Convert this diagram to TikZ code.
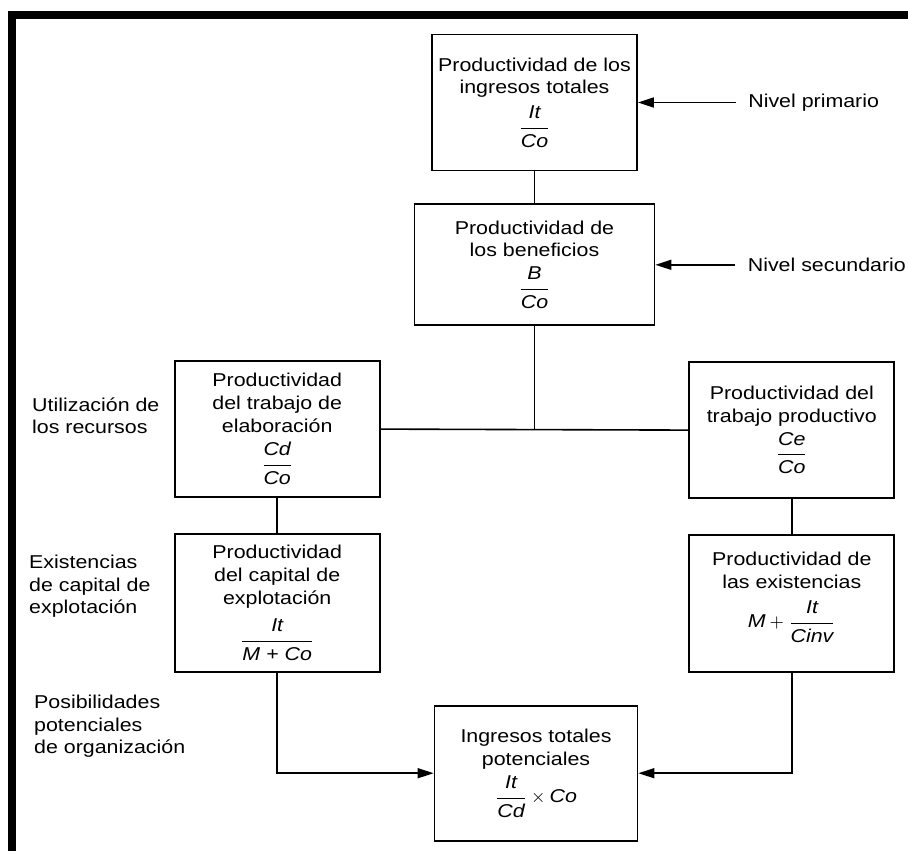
\documentclass[tikz,border=0pt]{standalone}
\usepackage{amsmath}
\usepackage{fontspec}
\setmainfont{Liberation Sans}[FakeStretch=1.15]
\usetikzlibrary{arrows.meta,positioning}
\newcommand{\pfrac}[2]{\dfrac{\textit{#1}\rule[-3.5pt]{0pt}{3.5pt}}{\rule{0pt}{8.2pt}\textit{#2}}}
\tikzset{
  pbox/.style={draw, line width=0.9pt, align=center, minimum width=102.5pt, minimum height=68pt, inner sep=2pt, font=\fontsize{9.3}{11.3}\selectfont},
  pboxwide/.style={pbox, minimum width=120pt, minimum height=60.5pt},
  plabel/.style={align=left, inner sep=0pt, font=\fontsize{9.3}{11.3}\selectfont},
  plevel/.style={inner xsep=6pt, inner ysep=2pt, font=\fontsize{9.3}{11.3}\selectfont},
  pline/.style={line width=0.8pt},
  parrow/.style={line width=0.8pt, -{Triangle[length=8pt, width=5pt]}},
  pframe/.style={fill=black}
}

\begin{document}
\begin{tikzpicture}
\useasboundingbox (0,0) rectangle (454pt,-425.5pt);
\fill[pframe] (4pt,-5.5pt) rectangle (454pt,-9.5pt);
\fill[pframe] (4pt,-5.5pt) rectangle (8pt,-425.5pt);

\node[pbox] (ingtot) at (267.25pt,-51.25pt) {Productividad de los\\ingresos totales\\[3pt]$\pfrac{It}{Co}$};
\node[pboxwide, below=16pt of ingtot] (benef) {Productividad de\\los beneficios\\[4pt]$\pfrac{B}{Co}$};
\node[pbox, below left=17pt and 16.5pt of benef] (elab) {Productividad\\del trabajo de\\elaboración\\[4pt]$\pfrac{Cd}{Co}$};
\node[pbox, below right=17.5pt and 16.5pt of benef] (prod) {Productividad del\\trabajo productivo\\[2pt]$\pfrac{Ce}{Co}$};
\node[pbox, below=17.5pt of elab, minimum height=69pt] (capexp) {Productividad\\del capital de\\explotación\\[4.3pt]$\pfrac{It}{M + \textit{Co}}$};
\node[pbox, below=17.5pt of prod, minimum height=68.5pt] (exist) {Productividad de\\las existencias\\[5pt]$\textit{M} + \pfrac{It}{Cinv}$\\[2pt]};
\node[pbox, below right=16pt and 26.5pt of capexp, minimum width=101.5pt, minimum height=67.5pt] (potenc) {Ingresos totales\\potenciales\\[2.3pt]$\pfrac{It}{Cd} \times \textit{Co}$};

\node[plevel, anchor=west, right=49pt of ingtot] (nivprim) {Nivel primario};
\node[plevel, anchor=west, right=40pt of benef] (nivsec) {Nivel secundario};

\node[plabel, anchor=west] (recursos) at ([xshift=-71pt, yshift=6.75pt]elab.west) {Utilización de\\los recursos};
\node[plabel, anchor=west] (capital) at ([xshift=-72.5pt, yshift=8.25pt]capexp.west) {Existencias\\de capital de\\explotación};
\node[plabel, anchor=north west] (organiz) at ([xshift=-70pt, yshift=-11pt]capexp.south west) {Posibilidades\\potenciales\\de organización};

\draw[pline] (ingtot) -- (benef);
\draw[pline] (elab.east) -- (prod.west);
\draw[pline] (benef) -- (benef |- elab.east);
\draw[pline] (elab) -- (capexp);
\draw[pline] (prod) -- (exist);
\draw[parrow] (capexp) |- (potenc);
\draw[parrow] (exist) |- (potenc);
\draw[parrow] (nivprim) -- (ingtot);
\draw[parrow] (nivsec) -- (benef);
\end{tikzpicture}
\end{document}
